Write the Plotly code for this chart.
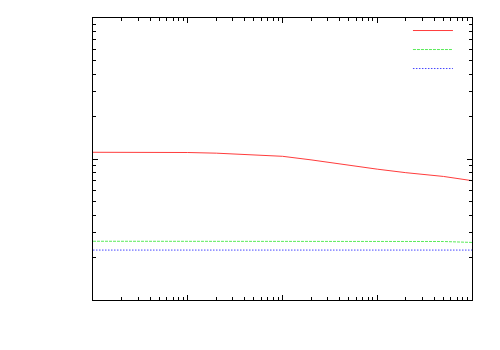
import plotly.graph_objects as go

# values (log x, log y)
x_vals = [1, 2, 5, 10, 20, 50, 100, 200, 500, 1000, 2000, 5000, 10000]
red_vals = [1.116, 1.116, 1.115, 1.112, 1.100, 1.072, 1.045, 0.986, 0.899, 0.847, 0.800, 0.752, 0.702]
green_vals = [0.261, 0.261, 0.261, 0.261, 0.261, 0.261, 0.261, 0.261, 0.261, 0.261, 0.261, 0.260, 0.256]
blue_vals = [0.226, 0.226, 0.226, 0.226, 0.226, 0.226, 0.226, 0.226, 0.226, 0.226, 0.226, 0.226, 0.226]

fig = go.Figure()
fig.add_trace(go.Scatter(x=x_vals, y=red_vals, mode='lines', name=' ',
                         line=dict(color='rgb(255,60,60)', width=1)))
fig.add_trace(go.Scatter(x=x_vals, y=green_vals, mode='lines', name=' ',
                         line=dict(color='rgb(90,235,90)', width=1, dash='3px,1px')))
fig.add_trace(go.Scatter(x=x_vals, y=blue_vals, mode='lines', name=' ',
                         line=dict(color='rgb(70,70,255)', width=1, dash='1.5px,1.5px')))

axis_style = dict(type='log', showgrid=False, zeroline=False, showticklabels=False,
                  showline=True, linecolor='black', linewidth=1, mirror='allticks',
                  ticks='inside', ticklen=5, tickcolor='black', dtick=1,
                  minor=dict(ticks='inside', ticklen=3, tickcolor='black', dtick='D1'))

fig.update_xaxes(range=[0, 4], **axis_style)
fig.update_yaxes(range=[-1, 1], **axis_style)

# page body adds an 8px offset, so margins are shifted to compensate
fig.update_layout(
    width=500, height=350,
    margin=dict(l=85, r=36, t=10, b=58, autoexpand=False),
    plot_bgcolor='white', paper_bgcolor='white',
    font=dict(family='DejaVu Sans', size=7, color='black'),
    showlegend=True,
    legend=dict(x=0.831, y=1.007, xanchor='left', yanchor='top',
                bgcolor='rgba(0,0,0,0)', itemwidth=40, tracegroupgap=0,
                font=dict(size=7)),
)

fig.write_html("out.html")
